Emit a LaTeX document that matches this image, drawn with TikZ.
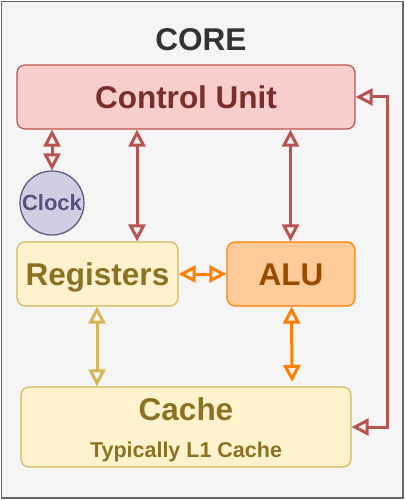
\documentclass[tikz,border=0pt]{standalone}
\usepackage{fontspec}
\setmainfont{Liberation Sans}
\usetikzlibrary{arrows.meta}
\definecolor{bgfill}{HTML}{F5F5F5}
\definecolor{bgline}{HTML}{666666}
\definecolor{coretext}{HTML}{333333}
\definecolor{cufill}{HTML}{F8CECC}
\definecolor{culine}{HTML}{B85450}
\definecolor{cutext}{HTML}{7A2E2B}
\definecolor{yfill}{HTML}{FFF2CC}
\definecolor{yline}{HTML}{D6B656}
\definecolor{ytext}{HTML}{8A7222}
\definecolor{ofill}{HTML}{FFCC99}
\definecolor{oline}{HTML}{FF8000}
\definecolor{otext}{HTML}{994C00}
\definecolor{pfill}{HTML}{D0CEE2}
\definecolor{pline}{HTML}{56517E}
\tikzset{
  box/.style={rectangle, rounded corners=8pt, line width=1.2pt, inner sep=0pt, text height=22.5pt, text depth=0pt, font=\bfseries\fontsize{31.5}{36}\selectfont},
  bigtxt/.style={font=\bfseries\fontsize{31.5}{36}\selectfont, inner sep=0pt, text height=22.5pt, text depth=0pt},
  smalltxt/.style={font=\bfseries\fontsize{21.5}{26}\selectfont, inner sep=0pt, text height=15.4pt, text depth=0pt},
  link/.style={line width=3pt, {Triangle[open,length=17pt,width=17pt]}-{Triangle[open,length=17pt,width=17pt]}},
}
\begin{document}
\begin{tikzpicture}[x=1pt,y=-1pt]
\useasboundingbox (0,0) rectangle (406,500);
\draw[fill=bgfill, draw=bgline, line width=1.5pt] (1.5,1.5) rectangle (403,498);
\node[bigtxt, text=coretext] (core) at (201,39) {CORE};
\node[box, fill=cufill, draw=culine, text=cutext, minimum width=338pt, minimum height=64pt] (cu) at (186,97) {Control Unit};
\node[circle, fill=pfill, draw=pline, line width=1.2pt, minimum size=64pt, inner sep=0pt, text=pline, text height=15.8pt, text depth=0pt, font=\bfseries\fontsize{22}{26}\selectfont] (clock) at (52,203) {Clock};
\node[box, fill=yfill, draw=yline, text=ytext, minimum width=161pt, minimum height=64pt] (reg) at (97.5,274) {Registers};
\node[box, fill=ofill, draw=oline, text=otext, minimum width=128pt, minimum height=64pt] (alu) at (291,274) {ALU};
\node[box, fill=yfill, draw=yline, minimum width=330pt, minimum height=80pt] (cache) at (186,427) {};
\node[bigtxt, text=ytext] (cachetitle) at (186,409) {Cache};
\node[smalltxt, text=ytext] (cachesub) at (186,450) {Typically L1 Cache};
% column coordinates
\coordinate (c137) at (137,0);
\coordinate (c290) at (290.5,0);
\coordinate (c97) at (97,0);
\coordinate (c291) at (291.5,0);
\coordinate (c388) at (387,0);
\coordinate (alucacheend) at (292,382);
% connectors
\draw[link, draw=culine] (cu.south -| clock.north) -- (clock.north);
\draw[link, draw=culine] (cu.south -| c137) -- (reg.north -| c137);
\draw[link, draw=culine] (cu.south -| c290) -- (alu.north -| c290);
\draw[link, draw=oline] (reg.east) -- (alu.west);
\draw[link, draw=yline] (reg.south -| c97) -- (cache.north -| c97);
\draw[link, draw=oline] (alu.south -| c291) -- (alucacheend);
\draw[link, draw=culine] (cu.east) -- (cu.east -| c388) -- (cache.east -| c388) -- (cache.east);
\end{tikzpicture}
\end{document}
